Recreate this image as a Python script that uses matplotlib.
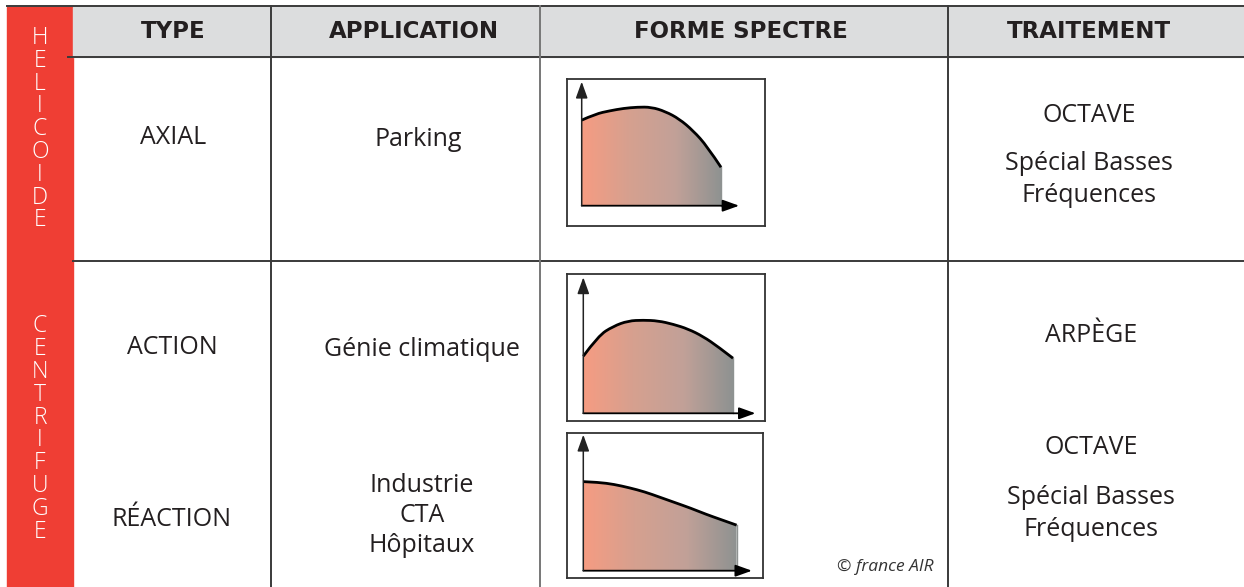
import numpy as np
import matplotlib.pyplot as plt
from matplotlib.colors import LinearSegmentedColormap
from matplotlib.patches import Rectangle, PathPatch
from matplotlib.path import Path

# --- table content ---
families = ["HELICOIDE", "CENTRIFUGE"]
headers = ["TYPE", "APPLICATION", "FORME SPECTRE", "TRAITEMENT"]
types = ["AXIAL", "ACTION", "RÉACTION"]
applications = [["Parking"], ["Génie climatique"], ["Industrie", "CTA", "Hôpitaux"]]
traitements = [["OCTAVE", "Spécial Basses", "Fréquences"],
               ["ARPÈGE"],
               ["OCTAVE", "Spécial Basses", "Fréquences"]]

# spectrum shapes: level per band (0..10)
bands = [0, 1, 2, 3, 4, 5, 6, 7, 8, 9, 10]
axial_level = [6.9, 7.4, 7.65, 7.85, 7.95, 7.95, 7.6, 7.0, 6.05, 4.8, 3.1]
action_level = [4.2, 5.7, 6.4, 6.8, 6.85, 6.8, 6.55, 6.2, 5.65, 4.9, 4.05]
reaction_level = [6.55, 6.5, 6.35, 6.1, 5.8, 5.4, 5.0, 4.6, 4.15, 3.75, 3.35]


def smooth_path(xs, ys, close=False):
    # quadratic bezier through midpoints, passes through the end points
    pts = list(zip(xs, ys))
    verts = [pts[0]]
    codes = [Path.MOVETO]
    for i in range(1, len(pts) - 1):
        mid = ((pts[i][0] + pts[i + 1][0]) / 2, (pts[i][1] + pts[i + 1][1]) / 2)
        if i == len(pts) - 2:
            mid = pts[-1]
        verts += [pts[i], mid]
        codes += [Path.CURVE3, Path.CURVE3]
    if close:
        verts += [(xs[-1], 0), (xs[0], 0), pts[0]]
        codes += [Path.LINETO, Path.LINETO, Path.CLOSEPOLY]
    return Path(verts, codes)


W, H = 1244, 587
fig = plt.figure(figsize=(W / 100, H / 100), dpi=100)
ax = fig.add_axes([0, 0, 1, 1])
ax.set_xlim(0, W)
ax.set_ylim(H, 0)
ax.axis("off")

red = "#EF3E34"
line = "#3a3a3a"
txt = "#231f20"
plt.rcParams["font.family"] = ["Open Sans", "DejaVu Sans"]

cols = [73, 271, 540, 948, W]
# red band and header band
ax.add_patch(Rectangle((7, 7), 66, H - 7, color=red, zorder=1))
ax.add_patch(Rectangle((73, 7), W - 73, 50, color="#dcddde", zorder=1))
# lines
ax.plot([7, W], [6, 6], color=line, lw=1.4, zorder=3)
ax.plot([68, W], [57, 57], color=line, lw=1.4, zorder=3)
ax.plot([73, W], [261, 261], color=line, lw=1.4, zorder=3)
for x, c in zip(cols[1:4], [line, "#777777", line]):
    ax.plot([x, x], [6, H], color=c, lw=1.4, zorder=3)

# vertical family letters
for word, y0, dy in [(families[0], 38, 22.8), (families[1], 326.5, 22.8)]:
    for i, ch in enumerate(word):
        ax.text(40, y0 + i * dy, ch, color="white", fontsize=16.5, ha="center",
                va="center", fontweight="light")

# headers
hx = [173, 414, 741, 1089]
for x, h in zip(hx, headers):
    ax.text(x, 31, h, fontsize=16.5, fontweight="bold", ha="center",
            va="center", color=txt, family="DejaVu Sans")

fs = 18
dy_txt = 3
# types
for (x, y), s in zip([(173, 135), (172, 344), (172, 517)], types):
    ax.text(x, y + dy_txt, s, fontsize=fs, ha="center", va="center", color=txt)

# applications and traitements
cells = [(418, [137], applications[0]),
         (422, [347], applications[1]),
         (422, [482, 512, 542], applications[2]),
         (1089, [113, 160, 193], traitements[0]),
         (1091, [333], traitements[1]),
         (1091, [445, 494, 527], traitements[2])]
for x, ys, lines in cells:
    for y, s in zip(ys, lines):
        ax.text(x, y + dy_txt, s, fontsize=fs, ha="center", va="center", color=txt)

ax.text(885, 567, "© france AIR", fontsize=12.5, style="italic",
        ha="center", va="center", color="#333333")

# spectrum mini charts
cmap = LinearSegmentedColormap.from_list("spec", ["#F69C82", "#D6A08F", "#C2A198", "#8E9291"])
grad = np.linspace(0, 1, 256).reshape(1, -1)
arrow = "-|>,head_length=1.0,head_width=0.36"

charts = [
    # box (x0, y0, x1, y1), origin px, px per band, px per level, x arrow len, y arrow len, levels
    ((567, 79, 765, 226), (581.7, 205.7), 13.93, 12.4, 11.3, 10.0, axial_level),
    ((567, 274, 765, 421), (583.3, 413.3), 14.97, 13.6, 11.5, 10.0, action_level),
    ((567, 433, 763, 578), (583.3, 570.7), 15.33, 13.6, 11.0, 10.0, reaction_level),
]
for (bx0, by0, bx1, by1), (ox, oy), sx, sy, xa, ya, lev in charts:
    cax = fig.add_axes([bx0 / W, 1 - by1 / H, (bx1 - bx0) / W, (by1 - by0) / H])
    cax.set_xlim(-(ox - bx0) / sx, (bx1 - ox) / sx)
    cax.set_ylim(-(by1 - oy) / sy, (oy - by0) / sy)
    cax.set_xticks([])
    cax.set_yticks([])
    for s in cax.spines.values():
        s.set_color("#333333")
        s.set_linewidth(1.3)
    area = PathPatch(smooth_path(bands, lev, close=True), facecolor="none",
                     edgecolor="none")
    cax.add_patch(area)
    im = cax.imshow(grad, cmap=cmap, aspect="auto",
                    extent=[bands[0], bands[-1], 0, max(lev) + 0.5], zorder=1)
    im.set_clip_path(area)
    cax.add_patch(PathPatch(smooth_path(bands, lev), facecolor="none",
                            edgecolor="black", lw=2.0, zorder=3))
    cax.plot([bands[-1], bands[-1]], [0, lev[-1]], color="#8E9291", lw=1.0, zorder=2)
    cax.annotate("", xy=(xa, 0), xytext=(0, 0),
                 arrowprops=dict(arrowstyle=arrow, color="black", lw=1.3,
                                 mutation_scale=10, shrinkA=0, shrinkB=0), zorder=4)
    cax.annotate("", xy=(0, ya), xytext=(0, 0),
                 arrowprops=dict(arrowstyle=arrow, color="#222222", lw=1.1,
                                 mutation_scale=10, shrinkA=0, shrinkB=0), zorder=4)

fig.savefig("out.png", dpi=100)
